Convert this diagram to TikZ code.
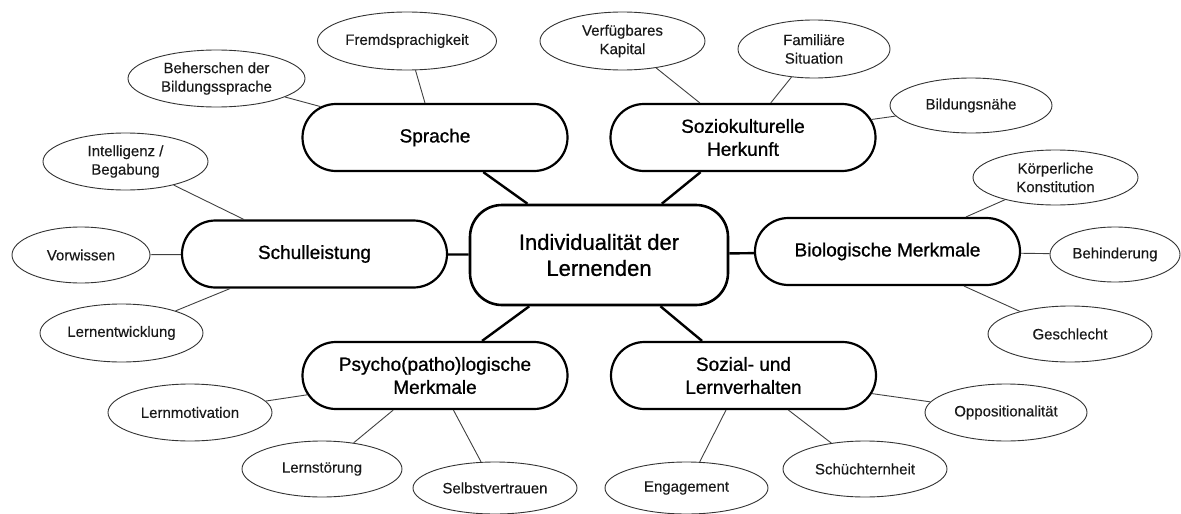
\documentclass[tikz,border=0pt]{standalone}
\usepackage{fontspec}
\setmainfont{Liberation Sans}
\newfontfamily\heavyface[FakeBold=0.9]{Liberation Sans}
\newfontfamily\leafface[FakeBold=0.3]{Liberation Sans}
\usetikzlibrary{shapes.geometric,shapes.misc}
\begin{document}
\begin{tikzpicture}[x=1pt,y=-1pt,
  core/.style={rectangle, rounded corners=32pt, draw=black, line width=2.6pt,
    fill=white, minimum width=258pt, minimum height=100pt, inner sep=0pt,
    align=center, font=\heavyface\fontsize{22}{26}\selectfont},
  topic/.style={rounded rectangle, draw=black, line width=2.2pt, fill=white,
    minimum width=265pt, minimum height=67pt, inner sep=0pt,
    align=center, font=\heavyface\fontsize{19}{23}\selectfont},
  leaf/.style 2 args={ellipse, draw=black!80, line width=0.9pt, fill=white,
    minimum width=#1, minimum height=#2, inner sep=0pt,
    align=center, text=black!90, font=\leafface\fontsize{15}{18.5}\selectfont},
  mainlink/.style={line width=2.4pt, draw=black},
  sublink/.style={line width=0.9pt, draw=black!75}]
\useasboundingbox (0,0) rectangle (1181,514);

% centre
\node[core] (c) at (599,255) {Individualität der\\Lernenden};

% main topics
\node[topic] (spr) at (435,137.5) {Sprache};
\node[topic] (soz) at (743,137.5) {Soziokulturelle\\Herkunft};
\node[topic] (sch) at (314.5,254) {Schulleistung};
\node[topic] (bio) at (887.5,251.5) {Biologische Merkmale};
\node[topic] (psy) at (435,375.5) {Psycho(patho)logische\\Merkmale};
\node[topic] (szl) at (743.5,375.5) {Sozial- und\\Lernverhalten};

% details
\node[leaf={179pt}{58pt}] (fre) at (407,41) {Fremdsprachigkeit};
\node[leaf={177pt}{57pt}] (beh) at (216.5,78.5) {Beherschen der\\Bildungssprache};
\node[leaf={165pt}{58pt}] (kap) at (622.5,41) {Verfügbares\\Kapital};
\node[leaf={152pt}{58pt}] (fam) at (814,49) {Familiäre\\Situation};
\node[leaf={162pt}{55pt}] (bil) at (971,105.5) {Bildungsnähe};
\node[leaf={165pt}{57pt}] (int) at (125.5,161.5) {Intelligenz /\\Begabung};
\node[leaf={165pt}{55pt}] (kor) at (1055.5,177.5) {Körperliche\\Konstitution};
\node[leaf={138pt}{56pt}] (vor) at (81,255) {Vorwissen};
\node[leaf={130pt}{55pt}] (bhd) at (1115,254.5) {Behinderung};
\node[leaf={163pt}{58pt}] (lew) at (121.5,333) {Lernentwicklung};
\node[leaf={164pt}{56pt}] (ges) at (1070,334) {Geschlecht};
\node[leaf={164pt}{57pt}] (lmo) at (190,412.5) {Lernmotivation};
\node[leaf={162pt}{57pt}] (opp) at (1006,412.5) {Oppositionalität};
\node[leaf={160pt}{56pt}] (lst) at (322,469) {Lernstörung};
\node[leaf={164pt}{56pt}] (scu) at (865,469) {Schüchternheit};
\node[leaf={164pt}{52pt}] (sel) at (495,488) {Selbstvertrauen};
\node[leaf={163pt}{52pt}] (eng) at (686.5,488) {Engagement};

% links from the centre
\draw[mainlink] (c) -- (spr);
\draw[mainlink] (c) -- (soz);
\draw[mainlink] (c) -- (sch);
\draw[mainlink] (c) -- (bio);
\draw[mainlink] (c) -- (psy);
\draw[mainlink] (c) -- (szl);

% links to the details
\draw[sublink] (spr) -- (fre);
\draw[sublink] (spr) -- (beh);
\draw[sublink] (soz) -- (kap);
\draw[sublink] (soz) -- (fam);
\draw[sublink] (soz) -- (bil);
\draw[sublink] (sch) -- (int);
\draw[sublink] (sch) -- (vor);
\draw[sublink] (sch) -- (lew);
\draw[sublink] (bio) -- (kor);
\draw[sublink] (bio) -- (bhd);
\draw[sublink] (bio) -- (ges);
\draw[sublink] (psy) -- (lmo);
\draw[sublink] (psy) -- (lst);
\draw[sublink] (psy) -- (sel);
\draw[sublink] (szl) -- (eng);
\draw[sublink] (szl) -- (scu);
\draw[sublink] (szl) -- (opp);
\end{tikzpicture}
\end{document}
